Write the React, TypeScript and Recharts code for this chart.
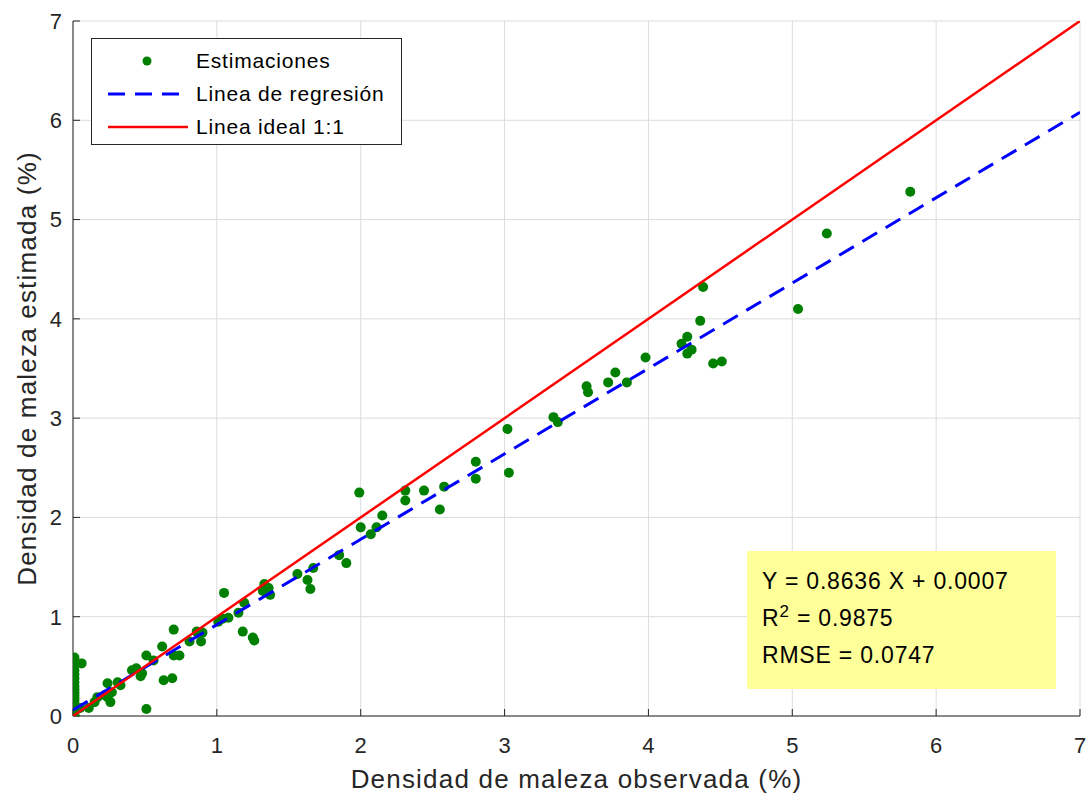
import { ScatterChart, Scatter, XAxis, YAxis, CartesianGrid, Legend, Label } from 'recharts';

// Observed vs estimated weed density (%)
const observed = [
  5.82, 5.24, 5.04, 4.38, 4.36, 4.27, 4.23, 4.30, 4.27, 4.45, 4.51, 3.98, 3.77, 3.72, 3.85, 3.57, 3.58,
  3.34, 3.37, 3.02, 3.03, 2.80, 2.80, 2.55, 2.58, 2.44, 2.31, 2.31, 1.99, 2.00, 2.11, 2.07, 2.15,
  1.85, 1.90, 1.67, 1.63, 1.65, 1.56, 1.33, 1.32, 1.37, 1.36, 1.05, 1.19, 1.15, 1.18, 1.25, 1.26,
  1.04, 1.08, 1.01, 0.86, 0.90, 0.89, 0.81, 0.70, 0.62, 0.70, 0.74, 0.51, 0.56, 0.63, 0.69, 0.51,
  0.41, 0.44, 0.48, 0.47, 0.24, 0.31, 0.33, 0.27, 0.24, 0.22, 0.26, 0.17, 0.15, 0.11, 0.06, 0.05,
  0.01, 0.01, 0.01, 0.01, 0.01, 0.01, 0.01, 0.01, 0.01, 0.01, 0.01, 0.01, 0.01, 0.01, 0.01, 0.01, 0.01, 0.01,
];
const estimated = [
  5.28, 4.86, 4.10, 4.32, 3.98, 3.82, 3.75, 3.69, 3.65, 3.55, 3.57, 3.61, 3.46, 3.36, 3.36, 3.32, 3.26,
  3.01, 2.96, 2.89, 2.45, 2.56, 2.39, 2.08, 2.31, 2.27, 2.27, 2.17, 2.25, 1.90, 1.90, 1.83, 2.02,
  1.62, 1.54, 1.49, 1.37, 1.28, 1.43, 1.33, 1.26, 1.22, 1.29, 1.24, 1.14, 1.04, 0.85, 0.79, 0.76,
  0.98, 0.99, 0.95, 0.85, 0.84, 0.75, 0.75, 0.87, 0.70, 0.61, 0.61, 0.61, 0.56, 0.36, 0.38, 0.07,
  0.46, 0.48, 0.43, 0.40, 0.33, 0.34, 0.31, 0.24, 0.19, 0.21, 0.14, 0.19, 0.14, 0.08, 0.53, 0.08,
  0.59, 0.55, 0.51, 0.46, 0.42, 0.38, 0.34, 0.30, 0.27, 0.24, 0.21, 0.18, 0.15, 0.12, 0.09, 0.06, 0.03, 0.01,
];
// line end points
const regressionX = [0, 7];
const regressionY = [0.06, 6.08];
const idealX = [0, 7];
const idealY = [0, 7];
const ticks = [0, 1, 2, 3, 4, 5, 6, 7];

const points = observed.map((x, i) => ({ x, y: estimated[i] }));
const regression = regressionX.map((x, i) => ({ x, y: regressionY[i] }));
const ideal = idealX.map((x, i) => ({ x, y: idealY[i] }));

const FONT = '"Liberation Sans", Arial, sans-serif';
const AXIS = '#262626';

const Dot = (props: any) => <circle cx={props.cx} cy={props.cy} r={5} fill="#008000" />;
const Nothing = () => <g />;

function LegendBox() {
  const row = { display: 'flex', alignItems: 'center', height: 33 };
  return (
    <div style={{ width: 311, height: 107, border: `1px solid ${AXIS}`, background: '#fff', fontFamily: FONT, fontSize: 21,
      letterSpacing: 0.8, color: '#000', paddingTop: 5, boxSizing: 'border-box' }}>
      <div style={row}>
        <svg width={104} height={20}><circle cx={55} cy={10} r={4.5} fill="#008000" /></svg>
        <span>Estimaciones</span>
      </div>
      <div style={row}>
        <svg width={104} height={20}><line x1={16} x2={96} y1={10} y2={10} stroke="#0000ff" strokeWidth={3} strokeDasharray="17 10" /></svg>
        <span>Linea de regresión</span>
      </div>
      <div style={row}>
        <svg width={104} height={20}><line x1={16} x2={96} y1={10} y2={10} stroke="#ff0000" strokeWidth={2.5} /></svg>
        <span>Linea ideal 1:1</span>
      </div>
    </div>
  );
}

export default function App() {
  const tickStyle = { fill: AXIS, fontSize: 22, fontFamily: FONT };
  const titleStyle = { fill: AXIS, fontSize: 26, fontFamily: FONT, letterSpacing: 1.2 };
  return (
    <div style={{ position: 'absolute', left: 0, top: 0, width: 1091, height: 802, background: '#fff' }}>
      <ScatterChart width={1091} height={802} margin={{ top: 21, right: 11, bottom: 11, left: 13 }}>
        <CartesianGrid stroke="#dcdcdc" strokeWidth={1} />
        <XAxis type="number" dataKey="x" domain={[0, 7]} ticks={ticks} allowDataOverflow
          height={75} stroke={AXIS} tickSize={-7} tickMargin={28} tick={tickStyle}>
          <Label value="Densidad de maleza observada (%)" position="insideBottom" offset={3} style={titleStyle} />
        </XAxis>
        <YAxis type="number" dataKey="y" domain={[0, 7]} ticks={ticks} allowDataOverflow
          width={60} stroke={AXIS} tickSize={-7} tickMargin={18} tick={tickStyle}>
          <Label value="Densidad de maleza estimada (%)" angle={-90} position="insideLeft" offset={14}
            style={{ ...titleStyle, textAnchor: 'middle' }} />
        </YAxis>
        <XAxis xAxisId="top" orientation="top" type="number" domain={[0, 7]} ticks={ticks}
          height={0} stroke={AXIS} tickSize={7} tick={false} />
        <YAxis yAxisId="right" orientation="right" type="number" domain={[0, 7]} ticks={ticks}
          width={0} stroke={AXIS} tickSize={7} tick={false} />
        <Scatter name="Estimaciones" data={points} shape={Dot} isAnimationActive={false} />
        <Scatter name="Linea de regresión" data={regression} shape={Nothing} isAnimationActive={false}
          line={{ stroke: '#0000ff', strokeWidth: 3, strokeDasharray: '17 10' }} />
        <Scatter name="Linea ideal 1:1" data={ideal} shape={Nothing} isAnimationActive={false}
          line={{ stroke: '#ff0000', strokeWidth: 2.5 }} />
        <Legend layout="vertical" align="center" verticalAlign="middle" content={<LegendBox />}
          wrapperStyle={{ left: 91, top: 38, width: 311, height: 107 }} />
      </ScatterChart>
      <div style={{ position: 'absolute', left: 747, top: 551, width: 309, height: 138, background: '#ffff99',
        fontFamily: FONT, fontSize: 23, letterSpacing: 0.8, color: '#000', padding: '12px 0 0 15px', boxSizing: 'border-box', lineHeight: '37px' }}>
        <div>Y = 0.8636 X + 0.0007</div>
        <div>R<sup style={{ fontSize: 17, lineHeight: 0 }}>2</sup> = 0.9875</div>
        <div>RMSE = 0.0747</div>
      </div>
    </div>
  );
}
